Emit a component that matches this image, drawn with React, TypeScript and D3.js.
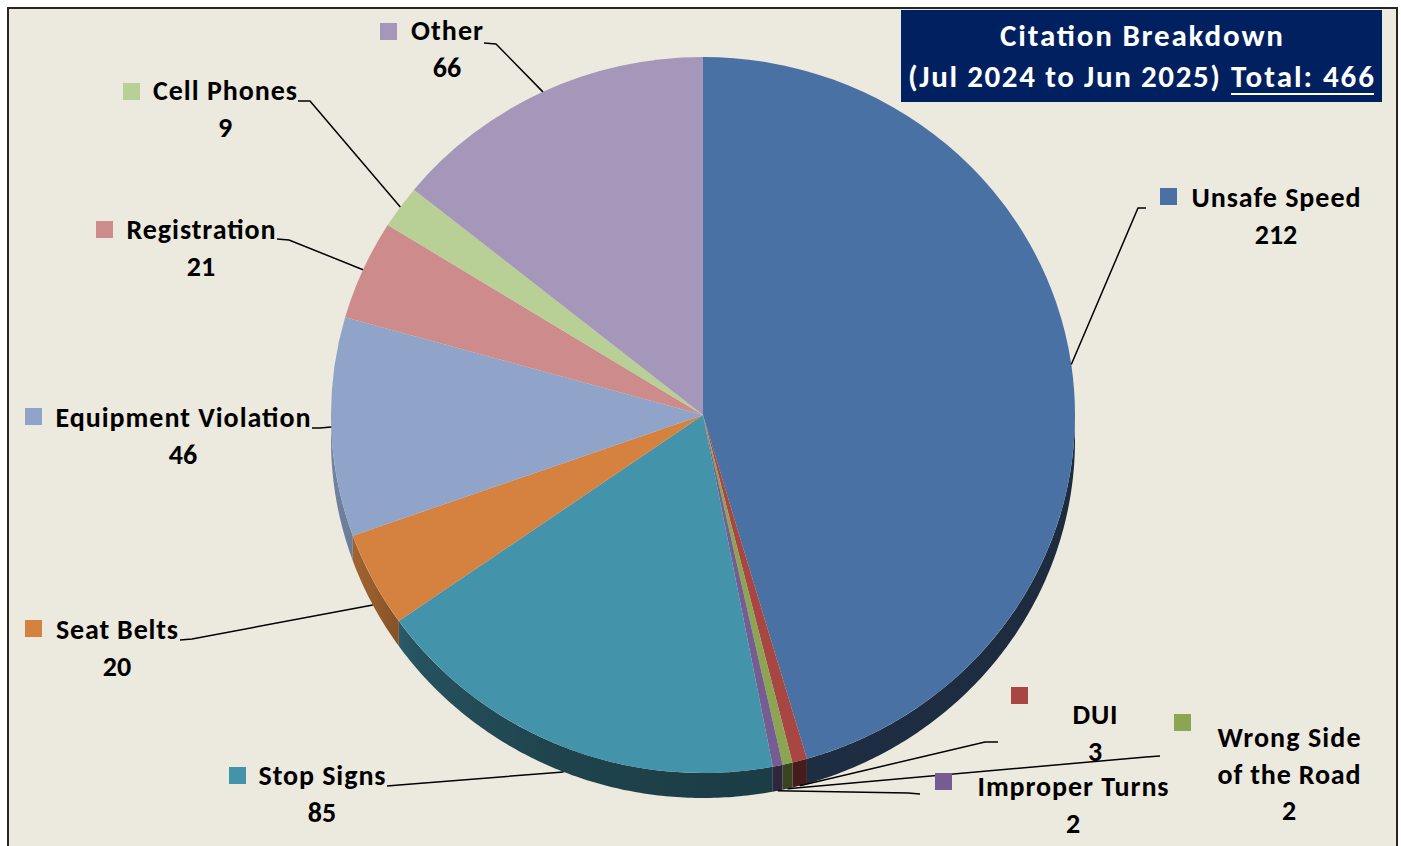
import React from 'react';
import * as d3 from 'd3';

// citation counts, Jul 2024 - Jun 2025
const categories = ['Unsafe Speed', 'DUI', 'Wrong Side of the Road', 'Improper Turns', 'Stop Signs',
  'Seat Belts', 'Equipment Violation', 'Registration', 'Cell Phones', 'Other'];
const values = [212, 3, 2, 2, 85, 20, 46, 21, 9, 66];
const colors = ['#4A71A3', '#A84643', '#8BA552', '#755C92', '#4393AA',
  '#D58240', '#8FA4C8', '#CD8C8B', '#B8CF96', '#A597BA'];

const titleLine1 = 'Citation Breakdown';
const titleLine2 = '(Jul 2024 to Jun 2025)';
const total = d3.sum(values);

// label placement (page coords), one per category; w = width of each name line
const labelLayout = [
  { cx: 1276, y: 207, w: [169], sq: [1160, 188], tail: [1146, 208], elbow: [1138, 208] },
  { cx: 1095, y: 724, w: [45], sq: [1011, 687], tail: [998, 742], elbow: [985, 742] },
  { cx: 1289, y: 747, w: [143, 143], sq: [1174, 714], tail: [1160, 756], elbow: [1146, 757], split: 2 },
  { cx: 1073, y: 796, w: [191], sq: [935, 773], tail: [920, 794], elbow: [908, 793] },
  { cx: 322, y: 785, w: [127], sq: [229, 767], tail: [387, 786], elbow: [399, 785] },
  { cx: 117, y: 639, w: [122], sq: [25, 620], tail: [180, 640], elbow: [192, 639] },
  { cx: 183, y: 427, w: [255], sq: [25, 408], tail: [312, 428], elbow: [320, 428] },
  { cx: 201, y: 239, w: [149], sq: [96, 221], tail: [277, 239], elbow: [289, 240] },
  { cx: 225, y: 100, w: [144], sq: [123, 83], tail: [298, 101], elbow: [310, 101] },
  { cx: 447, y: 40, w: [72], sq: [380, 23], tail: [484, 43], elbow: [496, 44] },
];

const W = 1401, H = 846;
const CX = 703, CY = 415, RX = 372, RY = 358, DEPTH = 25;
const FONT = "Carlito, Calibri, Lato, 'Open Sans', sans-serif";
const LINE_H = 36.5;

// side wall shading across the pie (x position -> brightness factor)
const shadeStops = [
  [331, 0.8], [370, 0.72], [420, 0.55], [550, 0.46], [703, 0.42], [1075, 0.38],
];

function shade(c: string, f: number) {
  const r = d3.rgb(c);
  return d3.rgb(r.r * f, r.g * f, r.b * f).formatHex();
}

const ept = (a: number) => [CX + RX * Math.sin(a), CY - RY * Math.cos(a)] as [number, number];

export default function App() {
  const pie = d3.pie<number>().sort(null).value(d => d)(values);
  const arc = d3.arc<d3.PieArcDatum<number>>().innerRadius(0).outerRadius(RX);
  const line = d3.line();

  const walls = pie.map((p, i) => {
    const a0 = Math.max(p.startAngle, Math.PI / 2);
    const a1 = Math.min(p.endAngle, Math.PI * 1.5);
    if (a1 <= a0) return null;
    const n = Math.max(2, Math.ceil((a1 - a0) / 0.01));
    const top = d3.range(n + 1).map(k => ept(a0 + (a1 - a0) * k / n));
    const bot = top.slice().reverse().map(([x, y]) => [x, y + DEPTH] as [number, number]);
    return { i, d: line([...top, ...bot]) + 'Z' };
  }).filter(Boolean) as { i: number; d: string }[];

  const anchors = pie.map(p => {
    const mid = (p.startAngle + p.endAngle) / 2;
    const [x, y] = ept(mid);
    return [x, Math.cos(mid) < -0.2 ? y + DEPTH : y];
  });

  return (
    <svg width={W} height={H} style={{ position: 'absolute', left: 0, top: 0, display: 'block' }}
      fontFamily={FONT}>
      <defs>
        {colors.map((c, i) => (
          <linearGradient key={i} id={`wall${i}`} gradientUnits="userSpaceOnUse"
            x1={331} x2={1075} y1={0} y2={0}>
            {shadeStops.map(([x, f], k) => (
              <stop key={k} offset={(x - 331) / (1075 - 331)} stopColor={shade(c, f)} />
            ))}
          </linearGradient>
        ))}
      </defs>
      <rect x={8} y={8} width={1389} height={860} fill="#ECE9DF" stroke="#262626" strokeWidth={2} />

      {/* side wall */}
      <g>
        {walls.map(w => <path key={w.i} d={w.d} fill={`url(#wall${w.i})`} />)}
      </g>
      {/* top face */}
      <g transform={`translate(${CX},${CY}) scale(1,${RY / RX})`}>
        {pie.map((p, i) => <path key={i} d={arc(p) as string} fill={colors[i]} />)}
      </g>

      {/* leader lines */}
      <g fill="none" stroke="#000" strokeWidth={1.5}>
        {labelLayout.map((l, i) => (
          <path key={i} d={line([l.tail as [number, number], l.elbow as [number, number], anchors[i] as [number, number]]) as string} />
        ))}
      </g>

      {/* labels */}
      <g fontWeight="bold" fontSize={28} fill="#000" textAnchor="middle">
        {labelLayout.map((l, i) => {
          const words = categories[i].split(' ');
          const lines = l.split ? [words.slice(0, l.split).join(' '), words.slice(l.split).join(' ')] : [categories[i]];
          return (
            <g key={i}>
              <rect x={l.sq[0]} y={l.sq[1]} width={17} height={17} fill={colors[i]} />
              {lines.map((t, k) => (
                <text key={k} x={l.cx} y={l.y + k * LINE_H} textLength={l.w[k]} lengthAdjust="spacing">{t}</text>
              ))}
              <text x={l.cx} y={l.y + lines.length * LINE_H}>{values[i]}</text>
            </g>
          );
        })}
      </g>

      {/* title box */}
      <rect x={901} y={10} width={481} height={92} fill="#002060" />
      <g fill="#fff" fontWeight="bold" fontSize={31}>
        <text x={1000} y={46} textLength={283} lengthAdjust="spacing">{titleLine1}</text>
        <text x={908} y={87} textLength={312} lengthAdjust="spacing">{titleLine2}</text>
        <text x={1231} y={87} textLength={143} lengthAdjust="spacing">{`Total: ${total}`}</text>
        <line x1={1231} x2={1374} y1={94} y2={94} stroke="#fff" strokeWidth={2.2} />
      </g>
    </svg>
  );
}
